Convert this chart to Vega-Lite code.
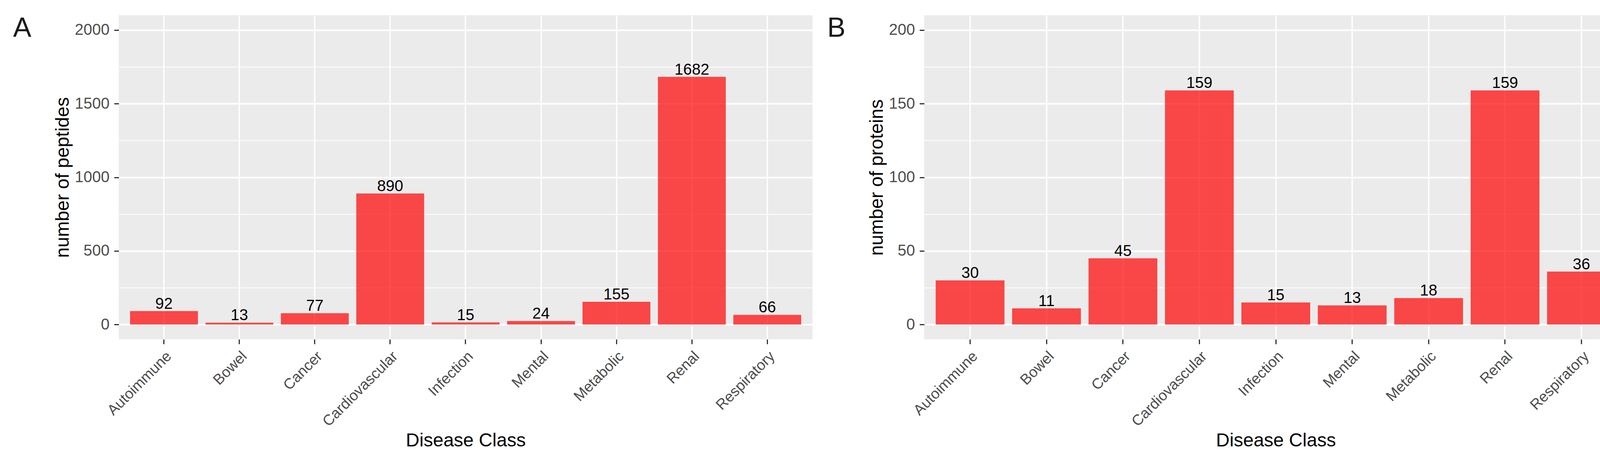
{
  "$schema": "https://vega.github.io/schema/vega-lite/v6.json",
  "background": "white",
  "padding": {"left": 33, "top": 38, "right": 44, "bottom": 5},
  "autosize": {"type": "pad"},
  "spacing": 37,
  "config": {
    "font": "Liberation Sans",
    "view": {"fill": "#EBEBEB", "stroke": null},
    "axis": {
      "labelFont": "Liberation Sans",
      "labelFontSize": 40,
      "labelColor": "#4D4D4D",
      "labelLimit": 1000,
      "titleFont": "Liberation Sans",
      "titleFontSize": 48,
      "titleFontWeight": "normal",
      "titleColor": "#000000",
      "tickColor": "#333333",
      "tickWidth": 3,
      "tickSize": 12,
      "labelPadding": 12,
      "domain": false,
      "gridColor": "#FFFFFF",
      "gridWidth": 4
    }
  },
  "datasets": {
    "d": [
      {"cls": "Autoimmune", "peptides": 92, "proteins": 30},
      {"cls": "Bowel", "peptides": 13, "proteins": 11},
      {"cls": "Cancer", "peptides": 77, "proteins": 45},
      {"cls": "Cardiovascular", "peptides": 890, "proteins": 159},
      {"cls": "Infection", "peptides": 15, "proteins": 15},
      {"cls": "Mental", "peptides": 24, "proteins": 13},
      {"cls": "Metabolic", "peptides": 155, "proteins": 18},
      {"cls": "Renal", "peptides": 1682, "proteins": 159},
      {"cls": "Respiratory", "peptides": 66, "proteins": 36}
    ]
  },
  "hconcat": [
    {
      "width": 1776,
      "height": 829,
      "title": {"text": "A", "orient": "left", "anchor": "end", "angle": 0, "align": "right", "baseline": "top", "fontSize": 70, "fontWeight": "normal", "color": "#1A1A1A", "offset": 10, "frame": "group", "font": "Liberation Sans"},
      "data": {"name": "d"},
      "encoding": {
        "x": {"field": "cls", "type": "nominal", "sort": null,
          "scale": {"paddingInner": 0.1, "paddingOuter": 0.15},
          "axis": {"title": "Disease Class", "labelAngle": -45, "labelAlign": "right", "labelBaseline": "top", "labelFontSize": 38, "titlePadding": 35, "grid": true, "gridWidth": 3.5, "bandPosition": 0.5}}
      },
      "layer": [
        {
          "mark": {"type": "bar", "color": "#FF0000", "opacity": 0.7},
          "encoding": {
            "y": {"field": "peptides", "type": "quantitative",
              "scale": {"domain": [-100, 2100], "nice": false, "zero": false},
              "axis": {"title": "number of peptides", "values": [0, 500, 1000, 1500, 2000], "format": "d", "titlePadding": 6}}
          }
        },
        {
          "mark": {"type": "text", "baseline": "alphabetic", "dy": -6, "fontSize": 40, "color": "#000000"},
          "encoding": {
            "y": {"field": "peptides", "type": "quantitative",
              "axis": {"orient": "left", "values": [250, 750, 1250, 1750], "labels": false, "ticks": false, "domain": false, "title": null, "grid": true, "gridWidth": 2}},
            "text": {"field": "peptides", "type": "quantitative"}
          }
        }
      ],
      "resolve": {"axis": {"y": "independent"}}
    },
    {
      "width": 1800,
      "height": 829,
      "title": {"text": "B", "orient": "left", "anchor": "end", "angle": 0, "align": "right", "baseline": "top", "fontSize": 70, "fontWeight": "normal", "color": "#1A1A1A", "offset": 10, "frame": "group", "font": "Liberation Sans"},
      "data": {"name": "d"},
      "encoding": {
        "x": {"field": "cls", "type": "nominal", "sort": null,
          "scale": {"paddingInner": 0.1, "paddingOuter": 0.15},
          "axis": {"title": "Disease Class", "labelAngle": -45, "labelAlign": "right", "labelBaseline": "top", "labelFontSize": 38, "titlePadding": 35, "grid": true, "gridWidth": 3.5, "bandPosition": 0.5}}
      },
      "layer": [
        {
          "mark": {"type": "bar", "color": "#FF0000", "opacity": 0.7},
          "encoding": {
            "y": {"field": "proteins", "type": "quantitative",
              "scale": {"domain": [-10, 210], "nice": false, "zero": false},
              "axis": {"title": "number of proteins", "values": [0, 50, 100, 150, 200], "format": "d", "titlePadding": 6}}
          }
        },
        {
          "mark": {"type": "text", "baseline": "alphabetic", "dy": -6, "fontSize": 40, "color": "#000000"},
          "encoding": {
            "y": {"field": "proteins", "type": "quantitative",
              "axis": {"orient": "left", "values": [25, 75, 125, 175], "labels": false, "ticks": false, "domain": false, "title": null, "grid": true, "gridWidth": 2}},
            "text": {"field": "proteins", "type": "quantitative"}
          }
        }
      ],
      "resolve": {"axis": {"y": "independent"}}
    }
  ]
}
